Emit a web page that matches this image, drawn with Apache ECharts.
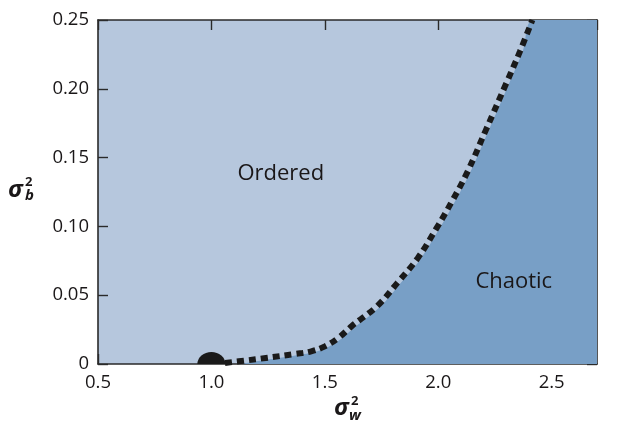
<!DOCTYPE html>
<html>
<head>
<meta charset="utf-8">
<script src="https://cdn.jsdelivr.net/npm/echarts@6/dist/echarts.min.js"></script>
<style>html,body{margin:0;padding:0;background:#fff;}#c{width:635px;height:436px;}</style>
</head>
<body>
<div id="c"></div>
<script>
// Boundary (dashed) curve
var lineX = [1.06, 1.15, 1.24, 1.37, 1.44, 1.50, 1.56, 1.62, 1.73, 1.82, 1.91, 1.99, 2.06, 2.13, 2.21, 2.30, 2.36, 2.415];
var lineY = [0.0008, 0.0025, 0.0044, 0.0073, 0.0092, 0.0128, 0.019, 0.0277, 0.042, 0.059, 0.077, 0.098, 0.118, 0.140, 0.170, 0.204, 0.227, 0.25];
// Edge of the chaotic (dark) region
var fillX = [1.13, 1.24, 1.37, 1.45, 1.51, 1.57, 1.63, 1.74, 1.83, 1.92, 2.00, 2.07, 2.14, 2.22, 2.31, 2.37, 2.425, 2.7];
var fillY = [0.0, 0.0030, 0.0062, 0.0085, 0.0120, 0.018, 0.0265, 0.041, 0.058, 0.076, 0.097, 0.117, 0.139, 0.169, 0.203, 0.226, 0.25, 0.25];
// Critical point marker
var pointX = [1.0];
var pointY = [0.0];
// Region labels
var regionNames = ['Ordered', 'Chaotic'];
var regionX = [1.306, 2.333];
var regionY = [0.1385, 0.0596];
// Axes
var xMin = 0.5, xMax = 2.7, xStep = 0.5;
var yMin = 0, yMax = 0.25, yStep = 0.05;

function zip(a, b) { return a.map(function (v, i) { return [v, b[i]]; }); }

var FONT = 'Open Sans';
var TXT = '#1a1718';
var chart = echarts.init(document.getElementById('c'), null, {renderer: 'canvas'});

var axisLine = {show: true, onZero: false, lineStyle: {color: '#2a2a2a', width: 1.6}};
var axisTick = {show: true, inside: true, length: 10, lineStyle: {color: '#2a2a2a', width: 1.4}};

chart.setOption({
  animation: false,
  grid: {left: 98, top: 20, right: 38, bottom: 72, show: true, backgroundColor: '#b6c7dd', borderWidth: 0},
  xAxis: [{
    type: 'value', min: xMin, max: xMax, interval: xStep, position: 'bottom',
    axisLine: axisLine, axisTick: axisTick, splitLine: {show: false},
    axisLabel: {showMaxLabel: false, margin: 9, color: TXT, fontFamily: FONT, fontSize: 18.5,
      formatter: function (v) { return v.toFixed(1); }}
  }, {
    type: 'value', min: xMin, max: xMax, interval: xStep, position: 'top',
    axisLine: axisLine, axisTick: axisTick, splitLine: {show: false}, axisLabel: {show: false}
  }],
  yAxis: [{
    type: 'value', min: yMin, max: yMax, interval: yStep, position: 'left',
    axisLine: axisLine, axisTick: axisTick, splitLine: {show: false},
    axisLabel: {margin: 9, color: TXT, fontFamily: FONT, fontSize: 18.5,
      formatter: function (v) { return v === 0 ? '0' : v.toFixed(2); }}
  }, {
    type: 'value', min: yMin, max: yMax, interval: yStep, position: 'right',
    axisLine: axisLine, axisTick: axisTick, splitLine: {show: false}, axisLabel: {show: false}
  }],
  series: [{
    type: 'line', data: zip(fillX, fillY), smooth: 0.4, symbol: 'none',
    lineStyle: {width: 0}, areaStyle: {color: '#789fc6', opacity: 1}, z: 1
  }, {
    type: 'line', data: zip(lineX, lineY), smooth: 0.4, symbol: 'none',
    lineStyle: {color: '#1a1a1a', width: 6, type: [7, 5], cap: 'butt'}, z: 3
  }, {
    type: 'scatter', data: zip(pointX, pointY),
    symbol: 'path://M0,10 A10,10 0 0 1 20,10 Z', symbolKeepAspect: false,
    symbolSize: [28, 12], symbolOffset: [0, -6],
    itemStyle: {color: '#1a1a1a', opacity: 1}, z: 4
  }, {
    type: 'scatter', symbolSize: 0, z: 5, itemStyle: {opacity: 1},
    data: regionNames.map(function (n, i) { return {name: n, value: [regionX[i], regionY[i]]}; }),
    label: {show: true, position: 'inside', formatter: '{b}', color: TXT, fontFamily: FONT, fontSize: 22}
  }],
  graphic: [
    {type: 'text', left: 8, top: 178, style: {text: 'σ', font: 'italic bold 24px "Open Sans"', fill: TXT}},
    {type: 'text', left: 25, top: 176, style: {text: '2', font: 'bold 13px "Open Sans"', fill: TXT}},
    {type: 'text', left: 25, top: 188, style: {text: 'b', font: 'italic bold 15px "Open Sans"', fill: TXT}},
    {type: 'text', left: 334, top: 396, style: {text: 'σ', font: 'italic bold 24px "Open Sans"', fill: TXT}},
    {type: 'text', left: 351, top: 395, style: {text: '2', font: 'bold 13px "Open Sans"', fill: TXT}},
    {type: 'text', left: 349, top: 408, style: {text: 'w', font: 'italic bold 15px "Open Sans"', fill: TXT}}
  ]
});
</script>
</body>
</html>
